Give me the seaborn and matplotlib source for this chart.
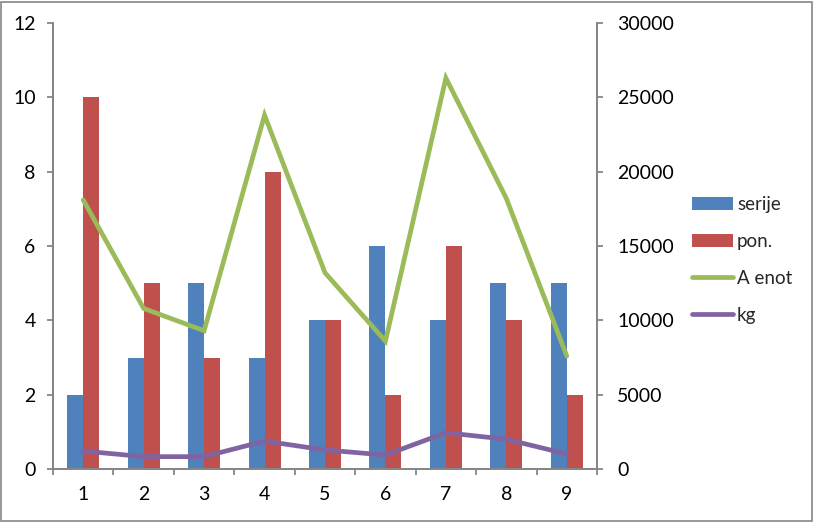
import numpy as np
import pandas as pd
import matplotlib
matplotlib.use("Agg")
import matplotlib.pyplot as plt
import seaborn as sns
from matplotlib.patches import Rectangle, Patch
from matplotlib.lines import Line2D

categories = ["1", "2", "3", "4", "5", "6", "7", "8", "9"]
serije = [2, 3, 5, 3, 4, 6, 4, 5, 5]
pon = [10, 5, 3, 8, 4, 2, 6, 4, 2]
a_enot = [18100, 10800, 9300, 23800, 13200, 8600, 26300, 18200, 7600]
kg = [1210, 830, 830, 1880, 1280, 940, 2440, 2000, 1010]

sns.set_theme(style="white")
plt.rcParams['font.family'] = ['Lato', 'DejaVu Sans']

BLUE, RED, GREEN, PURPLE = "#4F81BD", "#C0504D", "#9BBB59", "#8064A2"
GREY = "#868686"
FS = 14
LFS = 13.5

fig = plt.figure(figsize=(8.14, 5.22), dpi=100)
ax = fig.add_axes([53/814, 1-469/522, (597-53)/814, (469-23)/522])

bars = pd.DataFrame({
    "cat": categories * 2,
    "val": serije + pon,
    "series": ["serije"] * 9 + ["pon."] * 9,
})
sns.barplot(data=bars, x="cat", y="val", hue="series", order=categories,
            hue_order=["serije", "pon."], palette=[BLUE, RED], width=0.53,
            saturation=1, ax=ax, legend=False, linewidth=0, edgecolor="none")
ax.set_ylim(0, 12)
ax.set_xlim(-0.5, 8.5)
ax.set_yticks(np.arange(0, 13, 2))
ax.set_xlabel("")
ax.set_ylabel("")

ax2 = ax.twinx()
pos = np.arange(len(categories))
lines = pd.DataFrame({"x": np.concatenate([pos, pos]),
                      "y": a_enot + kg,
                      "s": ["A enot"] * 9 + ["kg"] * 9})
sns.lineplot(data=lines, x="x", y="y", hue="s", palette=[GREEN, PURPLE],
             linewidth=3.4, ax=ax2, legend=False, sort=False)
for ln in ax2.get_lines():
    ln.set_solid_capstyle("round")
    ln.set_solid_joinstyle("miter")
ax2.set_ylim(0, 30000)
ax2.set_yticks(np.arange(0, 30001, 5000))
ax2.set_xlim(-0.5, 8.5)
ax2.set_xlabel("")
ax2.set_ylabel("")

for a in (ax, ax2):
    for s in a.spines.values():
        s.set_color(GREY)
        s.set_linewidth(1.3)
    a.spines["top"].set_visible(False)
    a.grid(False)

ax.set_xticks(pos)
ax.set_xticklabels(categories)
ax.set_xticks(np.arange(-0.5, 9, 1), minor=True)
ax.tick_params(axis="x", which="major", length=0, pad=12, labelsize=FS, labelcolor="black")
ax.tick_params(axis="x", which="minor", bottom=True, length=4.5, width=1.3, color=GREY, direction="out")
ax.tick_params(axis="y", left=True, length=4.5, width=1.3, color=GREY, direction="out",
               pad=8, labelsize=FS, labelcolor="black")
ax2.tick_params(axis="y", right=True, length=4.5, width=1.3, color=GREY, direction="out",
                pad=10, labelsize=FS, labelcolor="black")

handles = [Patch(facecolor=BLUE, edgecolor="none"),
           Patch(facecolor=RED, edgecolor="none"),
           Line2D([], [], color=GREEN, lw=3.4, solid_capstyle="round"),
           Line2D([], [], color=PURPLE, lw=3.4, solid_capstyle="round")]
fig.legend(handles, ["serije", "pon.", "A enot", "kg"], loc="center left",
           bbox_to_anchor=(692/814, 1-260/522), frameon=False, borderpad=0,
           borderaxespad=0, fontsize=LFS, handlelength=2.2, handletextpad=0.2,
           labelspacing=1.05)

fig.patches.append(Rectangle((1/814, 1/522), 811/814, 519/522, transform=fig.transFigure,
                             fill=False, edgecolor=GREY, linewidth=1.2))

fig.savefig("out.png", dpi=100)
